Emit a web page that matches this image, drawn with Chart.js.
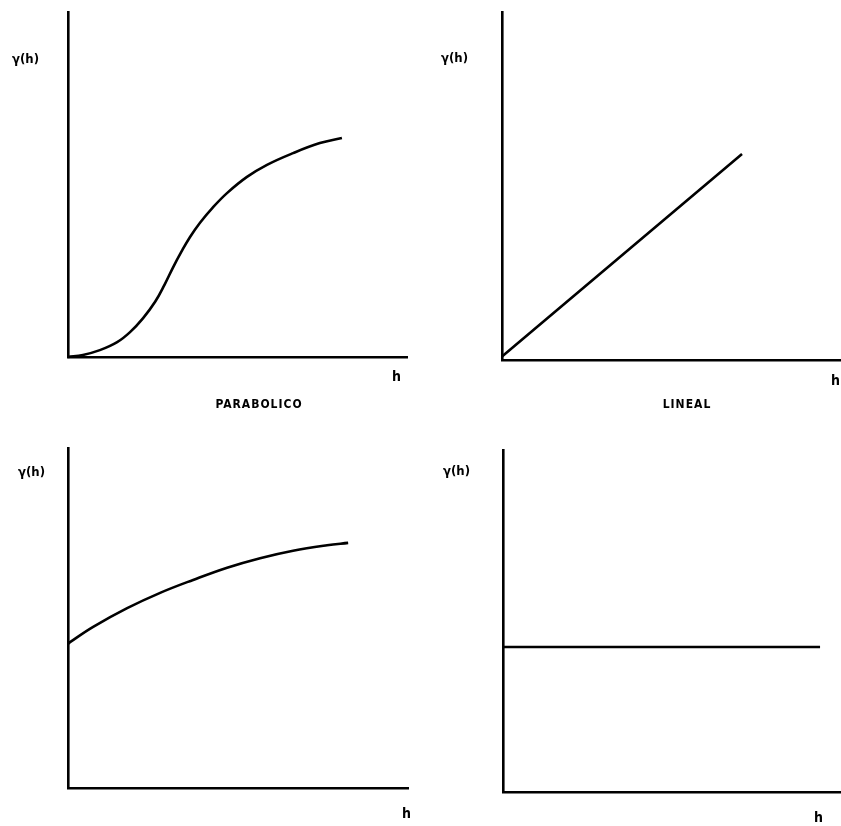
<!DOCTYPE html>
<html>
<head>
<meta charset="utf-8">
<script src="https://cdn.jsdelivr.net/npm/chart.js@4.4.1/dist/chart.umd.min.js"></script>
<style>
  html, body { margin: 0; padding: 0; background: #ffffff; }
  #wrap { position: relative; width: 841px; height: 826px; overflow: hidden; background: #fff; }
  canvas { position: absolute; left: 0; top: 0; }
  .lbl { position: absolute; font-family: "DejaVu Sans Condensed", "DejaVu Sans", sans-serif; font-weight: bold; color: #000; white-space: nowrap; line-height: 1; }
  .g { font-size: 13px; }
  .h { font-size: 14px; }
  .t { font-size: 12px; letter-spacing: 1px; }
</style>
</head>
<body>
<div id="wrap">
  <canvas id="c1" width="841" height="826"></canvas>
  <canvas id="c2" width="841" height="826"></canvas>
  <canvas id="c3" width="841" height="826"></canvas>
  <canvas id="c4" width="841" height="826"></canvas>
</div>
<script>
// ---- data (axis units 0..10 in each panel) ----
const yAxisLabel = "γ(h)";
const xAxisLabel = "h";
const panelTitles = ["PARABOLICO", "LINEAL"];

const parabolicoH     = [0, 0.44, 0.94, 1.45, 1.83, 2.21, 2.57, 2.85, 3.10, 3.35, 3.60, 3.90, 4.25, 4.69, 5.28, 5.87, 6.64, 7.43, 8.08];
const parabolicoGamma = [0, 0.06, 0.20, 0.43, 0.72, 1.12, 1.60, 2.10, 2.60, 3.06, 3.48, 3.90, 4.31, 4.75, 5.22, 5.57, 5.91, 6.20, 6.35];

const linealH     = [0, 7.08];
const linealGamma = [0.1, 5.92];

const pepitaH     = [0, 0.06, 0.74, 1.74, 2.71, 3.68, 4.68, 5.65, 6.62, 7.62, 8.24];
const pepitaGamma = [4.24, 4.29, 4.74, 5.29, 5.74, 6.12, 6.48, 6.76, 6.98, 7.14, 7.21];

const puroH     = [0, 9.38];
const puroGamma = [4.24, 4.24];

// ---- charts ----
function zip(xs, ys) { return xs.map((x, i) => ({ x: x, y: ys[i] })); }

function makePanel(id, xs, ys, pad) {
  new Chart(document.getElementById(id), {
    type: 'line',
    data: { datasets: [{
      data: zip(xs, ys),
      borderColor: '#000',
      borderWidth: 2.6,
      pointRadius: 0,
      tension: 0.4,
      fill: false,
      clip: false
    }]},
    options: {
      responsive: false,
      animation: false,
      devicePixelRatio: 1,
      layout: { padding: pad },
      plugins: { legend: { display: false }, tooltip: { enabled: false }, title: { display: false } },
      events: [],
      scales: {
        x: {
          type: 'linear', min: 0, max: 10,
          grid: { display: false, drawTicks: false },
          ticks: { display: false },
          border: { display: true, color: '#000', width: 2.6 },
          afterFit: s => { s.height = 0; }
        },
        y: {
          type: 'linear', min: 0, max: 10,
          grid: { display: false, drawTicks: false },
          ticks: { display: false },
          border: { display: true, color: '#000', width: 2.6 },
          afterFit: s => { s.width = 0; }
        }
      }
    }
  });
}

makePanel('c1', parabolicoH, parabolicoGamma, { left: 68, top: 12, right: 434, bottom: 469 });
makePanel('c2', linealH, linealGamma, { left: 502, top: 12, right: 0, bottom: 466 });
makePanel('c3', pepitaH, pepitaGamma, { left: 68, top: 448, right: 433, bottom: 38 });
makePanel('c4', puroH, puroGamma, { left: 503, top: 450, right: 0, bottom: 34 });

// ---- text labels ----
const wrap = document.getElementById('wrap');
function addLabel(text, cls, left, top, center) {
  const d = document.createElement('div');
  d.className = 'lbl ' + cls;
  d.textContent = text;
  d.style.left = left + 'px';
  d.style.top = top + 'px';
  if (center) d.style.transform = 'translateX(-50%)';
  wrap.appendChild(d);
}
addLabel(yAxisLabel, 'g', 12, 52, false);
addLabel(yAxisLabel, 'g', 441, 51, false);
addLabel(yAxisLabel, 'g', 18, 465, false);
addLabel(yAxisLabel, 'g', 443, 464, false);
addLabel(xAxisLabel, 'h', 392, 369, false);
addLabel(xAxisLabel, 'h', 831, 373, false);
addLabel(xAxisLabel, 'h', 402, 806, false);
addLabel(xAxisLabel, 'h', 814, 810, false);
addLabel(panelTitles[0], 't', 259, 398, true);
addLabel(panelTitles[1], 't', 687, 398, true);
</script>
</body>
</html>
